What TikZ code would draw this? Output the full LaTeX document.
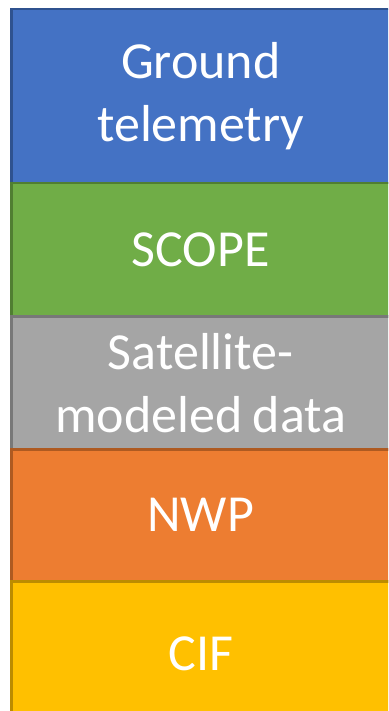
\documentclass[tikz,border=0pt]{standalone}
\usepackage{fontspec}
\setmainfont{Carlito}
\definecolor{bandblue}{HTML}{4472C4}
\definecolor{bandblueedge}{HTML}{2F528F}
\definecolor{bandgreen}{HTML}{70AD47}
\definecolor{bandgreenedge}{HTML}{507E32}
\definecolor{bandgray}{HTML}{A5A5A5}
\definecolor{bandgrayedge}{HTML}{787878}
\definecolor{bandorange}{HTML}{ED7D31}
\definecolor{bandorangeedge}{HTML}{AE5A21}
\definecolor{bandyellow}{HTML}{FFC000}
\definecolor{bandyellowedge}{HTML}{BC8C00}
\tikzset{
  band/.style={draw, line width=2.5pt, anchor=north west, inner sep=0pt,
    minimum width=379pt, text width=370pt, align=center, text=white,
    font=\fontsize{52}{63}\selectfont}
}
\begin{document}
\begin{tikzpicture}[x=1pt,y=1pt]
  \useasboundingbox (0,0) rectangle (388,-711);
  \clip (0,0) rectangle (388,-711);
  \node[band, fill=bandblue, draw=bandblueedge, minimum height=174pt] (ground) at (10,-8) {Ground\\telemetry};
  \node[band, fill=bandgreen, draw=bandgreenedge, minimum height=133pt] (scope) at (10,-182) {SCOPE};
  \node[band, fill=bandgray, draw=bandgrayedge, minimum height=133pt] (sat) at (10,-315) {Satellite-\\modeled\kern0.2em data};
  \node[band, fill=bandorange, draw=bandorangeedge, minimum height=132pt] (nwp) at (10,-448) {NWP};
  \node[band, fill=bandyellow, draw=bandyellowedge, minimum height=146pt] (cif) at (10,-580) {CIF};
\end{tikzpicture}
\end{document}
